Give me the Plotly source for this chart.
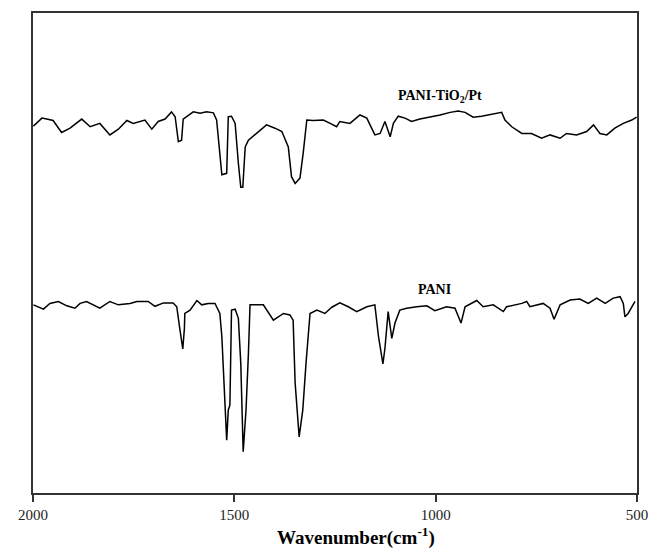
import plotly.graph_objects as go

# PANI-TiO2/Pt spectrum (wavenumber cm-1, transmittance a.u.)
wn_top = [1999, 1978, 1966, 1950, 1929, 1908, 1879, 1858, 1834, 1809, 1788, 1767, 1751, 1722, 1705,
          1689, 1672, 1656, 1647, 1639, 1631, 1627, 1602, 1585, 1569, 1552, 1544, 1537, 1531, 1519,
          1515, 1507, 1498, 1490, 1484, 1479, 1473, 1465, 1444, 1436, 1420, 1399, 1382, 1366, 1358,
          1349, 1337, 1329, 1320, 1304, 1279, 1262, 1246,
          1238, 1213, 1188, 1171, 1151, 1138, 1126, 1113, 1105, 1093, 1076, 1060, 1039, 1014, 989,
          964, 944, 927, 907, 886, 861, 836, 828, 811, 786, 762, 737, 716, 691, 675, 650, 625, 608,
          592, 575, 555, 534, 513, 501]
t_top = [76.4, 78.1, 77.9, 77.6, 75.1, 76.0, 77.9, 76.3, 77.0, 74.6, 75.8, 77.6, 77.0, 77.7, 75.8,
         77.4, 77.9, 79.4, 78.4, 73.2, 73.5, 77.9, 79.4, 79.1, 79.4, 79.2, 77.7, 72.1, 66.3, 66.6,
         78.4, 78.5, 77.0, 68.7, 63.7, 63.7, 72.1, 73.5, 74.9, 75.6, 76.7, 76.0, 75.3, 72.1, 65.9,
         64.5, 65.6, 70.8, 77.7, 77.6, 77.7, 77.0, 76.3,
         77.4, 77.0, 78.75, 78.1, 74.6, 74.9, 77.4, 74.2, 77.0, 78.5, 78.1, 77.4, 77.9, 78.3, 78.75,
         79.3, 79.6, 79.3, 78.3, 78.5, 78.9, 79.3, 77.7, 76.3, 74.9, 74.9, 73.9, 74.6, 73.9, 74.9,
         74.6, 75.3, 76.7, 74.9, 74.6, 76.0, 77.0, 77.7, 78.3]

# PANI spectrum
wn_bot = [1999, 1974, 1958, 1937, 1916, 1896, 1883, 1867, 1834, 1809, 1788, 1759, 1742, 1714, 1697,
          1676, 1652, 1643, 1635, 1628, 1624, 1623, 1610, 1593, 1581, 1565, 1548, 1536, 1531, 1527,
          1519, 1515, 1511, 1507, 1498, 1490, 1484, 1478, 1471, 1465, 1461, 1428, 1420, 1403, 1378,
          1362, 1354, 1349, 1339, 1330, 1322, 1312, 1295, 1275, 1258,
          1238, 1217, 1196, 1171, 1151, 1142, 1131, 1126, 1118, 1109, 1101, 1089, 1072, 1047, 1022,
          1002, 973, 952, 937, 927, 898, 882, 857, 832, 824, 786, 774, 766, 733, 716, 706, 691, 666,
          642, 621, 600, 579, 559, 542, 534, 530, 522, 505]
t_bot = [39.2, 38.3, 39.5, 39.9, 39.0, 38.5, 39.5, 39.9, 38.5, 39.9, 39.2, 39.5, 39.9, 39.9, 38.9,
         39.6, 39.6, 38.8, 34.0, 30.0, 34.3, 37.4, 38.1, 40.1, 39.2, 39.5, 39.5, 37.4, 32.6, 25.6,
         11.0, 17.3, 18.3, 38.1, 38.3, 36.4, 27.0, 8.6, 17.3, 29.1, 39.2, 39.2, 38.1, 36.0, 37.4,
         37.1, 36.0, 22.9, 11.7, 17.3, 27.0, 37.4, 38.1, 37.4, 38.7,
         39.6, 38.8, 37.8, 38.8, 39.2, 32.6, 26.9, 30.1, 37.8, 32.2, 35.4, 38.1, 38.5, 38.8, 39.0,
         38.0, 38.8, 38.5, 35.4, 38.8, 40.1, 38.8, 39.2, 37.8, 38.8, 39.5, 39.9, 38.8, 39.5, 38.5,
         36.2, 39.2, 40.2, 40.4, 39.5, 40.6, 39.5, 40.6, 40.9, 39.5, 36.7, 37.4, 39.9]

x_ticks = [2000, 1500, 1000, 500]
labels = ["PANI-TiO<sub>2</sub>/Pt", "PANI"]
label_x = [989, 1002]
label_y = [82.7, 42.3]
x_title = "Wavenumber(cm<sup>-1</sup>)"

serif = "Liberation Serif, Times New Roman, serif"

fig = go.Figure()
for wn, t in [(wn_top, t_top), (wn_bot, t_bot)]:
    fig.add_trace(go.Scatter(x=wn, y=t, mode="lines",
                             line=dict(color="black", width=1.5), showlegend=False,
                             hoverinfo="skip"))

for txt, lx, ly in zip(labels, label_x, label_y):
    fig.add_annotation(x=lx, y=ly, text="<b>" + txt + "</b>", showarrow=False,
                       font=dict(family=serif, size=14, color="black"))

# x-axis title (placed slightly right of centre as in the original)
fig.add_annotation(xref="paper", yref="paper", x=0.534, y=-0.09,
                   xanchor="center", yanchor="middle", showarrow=False,
                   text="<b>" + x_title + "</b>",
                   font=dict(family=serif, size=19, color="black"))

fig.update_layout(
    width=649, height=550,
    margin=dict(l=33, r=12, t=13, b=57),
    paper_bgcolor="white", plot_bgcolor="white",
    xaxis=dict(range=[2000, 500], tickvals=x_ticks, ticktext=[str(v) for v in x_ticks],
               showline=True, linecolor="#333", linewidth=2, mirror=True,
               ticks="outside", ticklen=7, tickcolor="#333", tickwidth=1.5,
               showgrid=False, zeroline=False, automargin=False,
               tickfont=dict(family=serif, size=15, color="#222")),
    yaxis=dict(range=[0, 100], showticklabels=False, ticks="", showgrid=False, zeroline=False,
               showline=True, linecolor="#333", linewidth=2, mirror=True, automargin=False),
)

fig.write_html("out.html", config={"displayModeBar": False},
               post_script="document.body.style.margin='0';document.body.style.overflow='hidden';")
